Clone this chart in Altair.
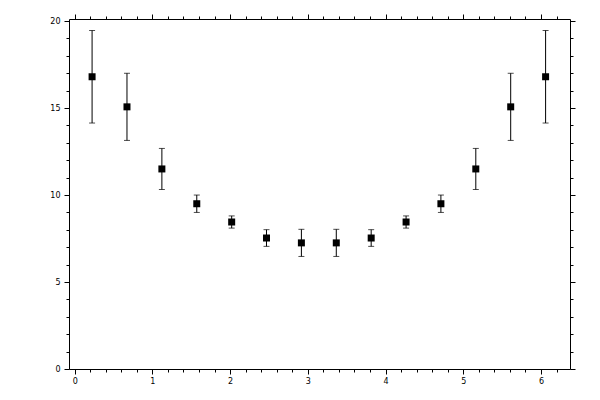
import altair as alt
import pandas as pd

# data
x_vals = [0.224, 0.673, 1.122, 1.571, 2.020, 2.468, 2.917, 3.366, 3.815, 4.264, 4.712, 5.161, 5.610, 6.059]
y_vals = [16.8, 15.07, 11.5, 9.5, 8.45, 7.53, 7.25, 7.25, 7.53, 8.45, 9.5, 11.5, 15.07, 16.8]
y_err = [2.66, 1.93, 1.18, 0.5, 0.35, 0.48, 0.78, 0.78, 0.48, 0.35, 0.5, 1.18, 1.93, 2.66]

x_ticks = [0.0, 0.2, 0.4, 0.6, 0.8, 1.0, 1.2, 1.4, 1.6, 1.8, 2.0, 2.2, 2.4, 2.6, 2.8, 3.0,
           3.2, 3.4, 3.6, 3.8, 4.0, 4.2, 4.4, 4.6, 4.8, 5.0, 5.2, 5.4, 5.6, 5.8, 6.0, 6.2]
y_ticks = [0, 1, 2, 3, 4, 5, 6, 7, 8, 9, 10, 11, 12, 13, 14, 15, 16, 17, 18, 19, 20]

df = pd.DataFrame({
    "x": x_vals,
    "y": y_vals,
    "lo": [v - e for v, e in zip(y_vals, y_err)],
    "hi": [v + e for v, e in zip(y_vals, y_err)],
})

xscale = alt.Scale(domain=[-0.073, 6.373], nice=False, zero=False)
yscale = alt.Scale(domain=[0, 20.12], nice=False, zero=False)

x_major = "abs(datum.value - round(datum.value)) < 0.001"
y_major = "datum.value % 5 == 0"

x_bottom = alt.Axis(orient="bottom", values=x_ticks, title=None,
                    labelExpr=f"{x_major} ? format(datum.value, 'd') : ''",
                    tickSize={"condition": {"test": x_major, "value": 5}, "value": 3},
                    labelPadding=3, labelFlush=False, labelOverlap=False)
y_left = alt.Axis(orient="left", values=y_ticks, title=None,
                  labelExpr=f"{y_major} ? format(datum.value, 'd') : ''",
                  tickSize={"condition": {"test": y_major, "value": 5}, "value": 3},
                  labelPadding=4, labelFlush=False, labelOverlap=False)
x_top = alt.Axis(orient="top", values=x_ticks, title=None, labels=False,
                 tickSize={"condition": {"test": x_major, "value": 5}, "value": 3})
y_right = alt.Axis(orient="right", values=y_ticks, title=None, labels=False,
                   tickSize={"condition": {"test": y_major, "value": 5}, "value": 3})

base = alt.Chart(df)

rules = base.mark_rule(color="black", strokeWidth=1).encode(
    x=alt.X("x:Q", scale=xscale, axis=x_bottom),
    y=alt.Y("lo:Q", scale=yscale, axis=y_left),
    y2="hi:Q",
)
caps_hi = base.mark_tick(color="black", orient="horizontal", size=6, thickness=1).encode(
    x=alt.X("x:Q", scale=xscale, axis=x_top),
    y=alt.Y("hi:Q", scale=yscale, axis=y_right),
)
caps_lo = base.mark_tick(color="black", orient="horizontal", size=6, thickness=1).encode(
    x=alt.X("x:Q", scale=xscale, axis=None),
    y=alt.Y("lo:Q", scale=yscale, axis=None),
)
squares = base.mark_square(color="black", size=49, opacity=1).encode(
    x=alt.X("x:Q", scale=xscale, axis=None),
    y=alt.Y("y:Q", scale=yscale, axis=None),
)

chart = alt.layer(rules, caps_hi, caps_lo, squares).resolve_axis(
    x="independent", y="independent"
).properties(
    width=501, height=350, autosize="none",
    padding={"left": 61, "top": 11, "right": 21, "bottom": 22},
).configure_view(stroke=None).configure_axis(
    domainColor="black", tickColor="black", labelColor="black", grid=False,
    labelFont="DejaVu Sans", labelFontSize=8, domainWidth=1, tickWidth=1,
)

chart.save("out.html", embed_options={"renderer": "svg", "actions": False})
